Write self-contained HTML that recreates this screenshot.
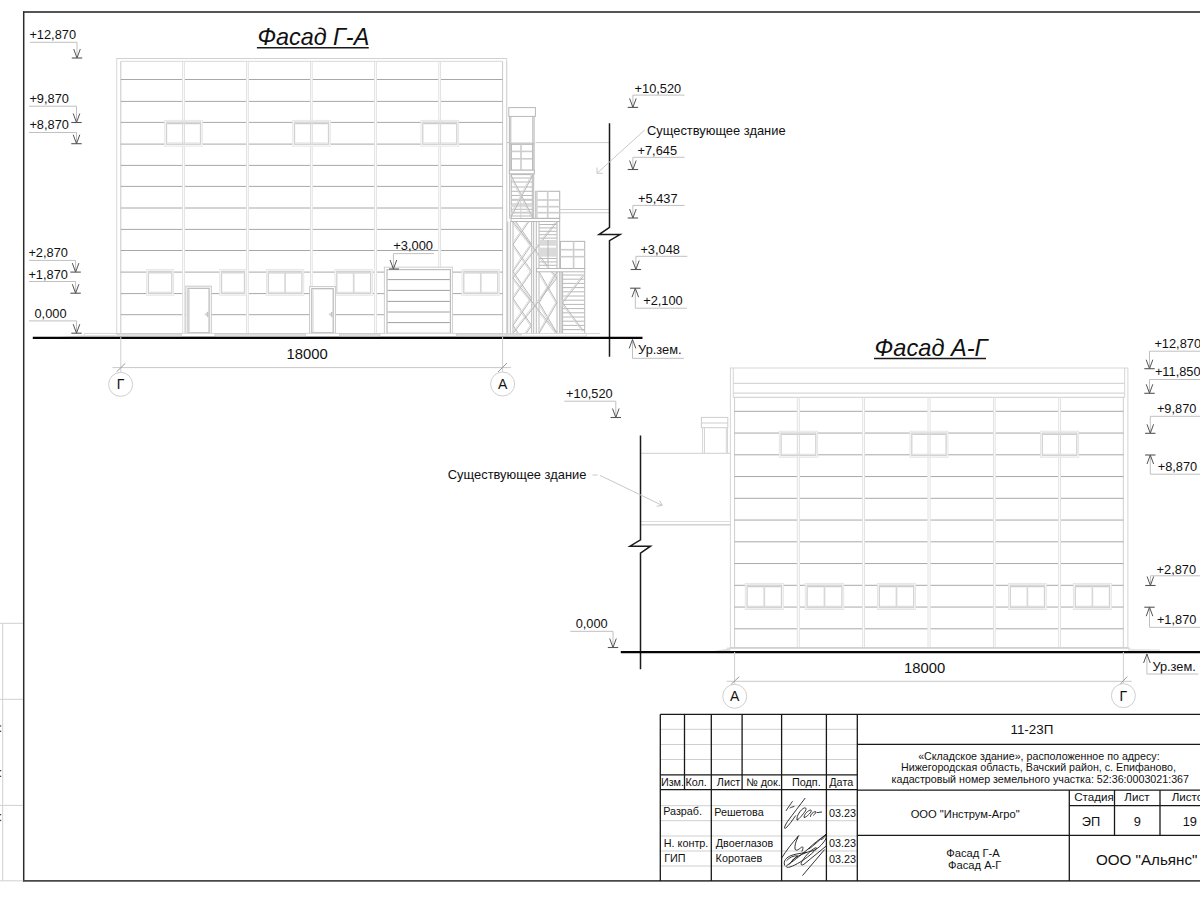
<!DOCTYPE html>
<html><head><meta charset="utf-8"><title>Фасады</title>
<style>
html,body{margin:0;padding:0;background:#fff;width:1200px;height:900px;overflow:hidden;}
svg{display:block;font-family:"Liberation Sans",sans-serif;}
</style></head><body>
<svg width="1200" height="900" viewBox="0 0 1200 900" shape-rendering="auto">
<rect x="0" y="0" width="1200" height="900" fill="#fff"/>
<line x1="23.00" y1="12.00" x2="1200.00" y2="12.00" stroke="#555" stroke-width="1.9"/>
<line x1="23.70" y1="11.50" x2="23.70" y2="881.50" stroke="#2c2c2c" stroke-width="1.5"/>
<line x1="23.00" y1="880.90" x2="1200.00" y2="880.90" stroke="#484848" stroke-width="1.8"/>
<line x1="2.70" y1="623.30" x2="2.70" y2="881.00" stroke="#d0d0d0" stroke-width="1"/>
<line x1="0.00" y1="623.30" x2="23.00" y2="623.30" stroke="#d0d0d0" stroke-width="1"/>
<line x1="0.00" y1="699.30" x2="23.00" y2="699.30" stroke="#d0d0d0" stroke-width="1"/>
<line x1="0.00" y1="805.40" x2="23.00" y2="805.40" stroke="#d0d0d0" stroke-width="1"/>
<line x1="0.00" y1="880.80" x2="23.00" y2="880.80" stroke="#d0d0d0" stroke-width="1"/>
<rect x="0" y="725.3" width="1.2" height="1.3" fill="#444"/>
<rect x="0" y="730.7" width="1.2" height="1.3" fill="#444"/>
<rect x="0" y="770.0" width="1.2" height="1.3" fill="#444"/>
<rect x="0" y="775.7" width="1.2" height="1.3" fill="#444"/>
<rect x="0" y="814.0" width="1.2" height="1.3" fill="#444"/>
<rect x="0" y="819.8" width="1.2" height="1.3" fill="#444"/>
<text x="29.40" y="39.00" font-size="12.8" text-anchor="start" fill="#111">+12,870</text>
<line x1="30.00" y1="42.30" x2="77.00" y2="42.30" stroke="#c0c0c0" stroke-width="1"/>
<line x1="77.00" y1="42.30" x2="77.00" y2="58.00" stroke="#c0c0c0" stroke-width="1"/>
<polyline points="73.70,49.00 77.00,58.00 80.30,49.00" stroke="#555" stroke-width="1" fill="none" stroke-linejoin="miter"/>
<line x1="71.80" y1="58.00" x2="82.20" y2="58.00" stroke="#555" stroke-width="1.1"/>
<text x="29.40" y="103.30" font-size="12.8" text-anchor="start" fill="#111">+9,870</text>
<line x1="29.00" y1="106.20" x2="76.50" y2="106.20" stroke="#c0c0c0" stroke-width="1"/>
<line x1="76.50" y1="106.20" x2="76.50" y2="122.50" stroke="#c0c0c0" stroke-width="1"/>
<polyline points="73.20,113.50 76.50,122.50 79.80,113.50" stroke="#555" stroke-width="1" fill="none" stroke-linejoin="miter"/>
<line x1="71.30" y1="122.50" x2="81.70" y2="122.50" stroke="#555" stroke-width="1.1"/>
<text x="29.40" y="128.80" font-size="12.8" text-anchor="start" fill="#111">+8,870</text>
<line x1="29.00" y1="132.50" x2="76.50" y2="132.50" stroke="#c0c0c0" stroke-width="1"/>
<line x1="76.50" y1="132.50" x2="76.50" y2="143.70" stroke="#c0c0c0" stroke-width="1"/>
<polyline points="73.20,134.70 76.50,143.70 79.80,134.70" stroke="#555" stroke-width="1" fill="none" stroke-linejoin="miter"/>
<line x1="71.30" y1="143.70" x2="81.70" y2="143.70" stroke="#555" stroke-width="1.1"/>
<text x="28.40" y="257.10" font-size="12.8" text-anchor="start" fill="#111">+2,870</text>
<line x1="29.00" y1="260.40" x2="75.60" y2="260.40" stroke="#c0c0c0" stroke-width="1"/>
<line x1="75.60" y1="260.40" x2="75.60" y2="272.10" stroke="#c0c0c0" stroke-width="1"/>
<polyline points="72.30,263.10 75.60,272.10 78.90,263.10" stroke="#555" stroke-width="1" fill="none" stroke-linejoin="miter"/>
<line x1="70.40" y1="272.10" x2="80.80" y2="272.10" stroke="#555" stroke-width="1.1"/>
<text x="28.40" y="278.50" font-size="12.8" text-anchor="start" fill="#111">+1,870</text>
<line x1="29.00" y1="281.50" x2="75.60" y2="281.50" stroke="#c0c0c0" stroke-width="1"/>
<line x1="75.60" y1="281.50" x2="75.60" y2="293.20" stroke="#c0c0c0" stroke-width="1"/>
<polyline points="72.30,284.20 75.60,293.20 78.90,284.20" stroke="#555" stroke-width="1" fill="none" stroke-linejoin="miter"/>
<line x1="70.40" y1="293.20" x2="80.80" y2="293.20" stroke="#555" stroke-width="1.1"/>
<text x="34.50" y="318.10" font-size="12.8" text-anchor="start" fill="#111">0,000</text>
<line x1="29.00" y1="320.90" x2="76.50" y2="320.90" stroke="#c0c0c0" stroke-width="1"/>
<line x1="76.50" y1="320.90" x2="76.50" y2="333.20" stroke="#c0c0c0" stroke-width="1"/>
<polyline points="73.20,324.20 76.50,333.20 79.80,324.20" stroke="#555" stroke-width="1" fill="none" stroke-linejoin="miter"/>
<line x1="71.30" y1="333.20" x2="81.70" y2="333.20" stroke="#555" stroke-width="1.1"/>
<text x="634.60" y="92.50" font-size="12.8" text-anchor="start" fill="#111">+10,520</text>
<line x1="632.90" y1="95.10" x2="684.50" y2="95.10" stroke="#c0c0c0" stroke-width="1"/>
<line x1="632.90" y1="95.10" x2="632.90" y2="107.40" stroke="#c0c0c0" stroke-width="1"/>
<polyline points="629.60,98.40 632.90,107.40 636.20,98.40" stroke="#555" stroke-width="1" fill="none" stroke-linejoin="miter"/>
<line x1="627.70" y1="107.40" x2="638.10" y2="107.40" stroke="#555" stroke-width="1.1"/>
<text x="637.50" y="154.60" font-size="12.8" text-anchor="start" fill="#111">+7,645</text>
<line x1="632.90" y1="157.30" x2="684.50" y2="157.30" stroke="#c0c0c0" stroke-width="1"/>
<line x1="632.90" y1="157.30" x2="632.90" y2="169.50" stroke="#c0c0c0" stroke-width="1"/>
<polyline points="629.60,160.50 632.90,169.50 636.20,160.50" stroke="#555" stroke-width="1" fill="none" stroke-linejoin="miter"/>
<line x1="627.70" y1="169.50" x2="638.10" y2="169.50" stroke="#555" stroke-width="1.1"/>
<text x="638.10" y="202.80" font-size="12.8" text-anchor="start" fill="#111">+5,437</text>
<line x1="632.90" y1="205.40" x2="684.50" y2="205.40" stroke="#c0c0c0" stroke-width="1"/>
<line x1="632.90" y1="205.40" x2="632.90" y2="218.00" stroke="#c0c0c0" stroke-width="1"/>
<polyline points="629.60,209.00 632.90,218.00 636.20,209.00" stroke="#555" stroke-width="1" fill="none" stroke-linejoin="miter"/>
<line x1="627.70" y1="218.00" x2="638.10" y2="218.00" stroke="#555" stroke-width="1.1"/>
<text x="640.40" y="254.40" font-size="12.8" text-anchor="start" fill="#111">+3,048</text>
<line x1="635.90" y1="256.30" x2="687.30" y2="256.30" stroke="#c0c0c0" stroke-width="1"/>
<line x1="635.90" y1="256.30" x2="635.90" y2="269.50" stroke="#c0c0c0" stroke-width="1"/>
<polyline points="632.60,260.50 635.90,269.50 639.20,260.50" stroke="#555" stroke-width="1" fill="none" stroke-linejoin="miter"/>
<line x1="630.70" y1="269.50" x2="641.10" y2="269.50" stroke="#555" stroke-width="1.1"/>
<text x="643.20" y="305.40" font-size="12.8" text-anchor="start" fill="#111">+2,100</text>
<line x1="635.30" y1="288.20" x2="635.30" y2="308.20" stroke="#c0c0c0" stroke-width="1"/>
<line x1="635.30" y1="308.20" x2="686.90" y2="308.20" stroke="#c0c0c0" stroke-width="1"/>
<polyline points="632.00,297.20 635.30,288.20 638.60,297.20" stroke="#555" stroke-width="1" fill="none" stroke-linejoin="miter"/>
<line x1="630.10" y1="288.20" x2="640.50" y2="288.20" stroke="#555" stroke-width="1.1"/>
<text x="638.10" y="354.00" font-size="12.8" text-anchor="start" fill="#111">Ур.зем.</text>
<line x1="632.50" y1="339.40" x2="632.50" y2="358.30" stroke="#c0c0c0" stroke-width="1"/>
<line x1="632.50" y1="358.30" x2="683.90" y2="358.30" stroke="#c0c0c0" stroke-width="1"/>
<polyline points="629.20,348.40 632.50,339.40 635.80,348.40" stroke="#555" stroke-width="1" fill="none" stroke-linejoin="miter"/>
<text x="566.10" y="397.50" font-size="12.8" text-anchor="start" fill="#111">+10,520</text>
<line x1="564.20" y1="401.20" x2="615.80" y2="401.20" stroke="#c0c0c0" stroke-width="1"/>
<line x1="615.80" y1="401.20" x2="615.80" y2="417.50" stroke="#c0c0c0" stroke-width="1"/>
<polyline points="612.50,408.50 615.80,417.50 619.10,408.50" stroke="#555" stroke-width="1" fill="none" stroke-linejoin="miter"/>
<line x1="610.60" y1="417.50" x2="621.00" y2="417.50" stroke="#555" stroke-width="1.1"/>
<text x="575.70" y="628.30" font-size="12.8" text-anchor="start" fill="#111">0,000</text>
<line x1="570.30" y1="631.30" x2="613.00" y2="631.30" stroke="#c0c0c0" stroke-width="1"/>
<line x1="613.00" y1="631.30" x2="613.00" y2="647.50" stroke="#c0c0c0" stroke-width="1"/>
<polyline points="609.70,638.50 613.00,647.50 616.30,638.50" stroke="#555" stroke-width="1" fill="none" stroke-linejoin="miter"/>
<line x1="607.80" y1="647.50" x2="618.20" y2="647.50" stroke="#555" stroke-width="1.1"/>
<text x="1154.40" y="348.00" font-size="12.8" text-anchor="start" fill="#111">+12,870</text>
<line x1="1149.50" y1="351.20" x2="1200.00" y2="351.20" stroke="#c0c0c0" stroke-width="1"/>
<line x1="1149.50" y1="351.20" x2="1149.50" y2="368.70" stroke="#c0c0c0" stroke-width="1"/>
<polyline points="1146.20,359.70 1149.50,368.70 1152.80,359.70" stroke="#555" stroke-width="1" fill="none" stroke-linejoin="miter"/>
<line x1="1144.30" y1="368.70" x2="1154.70" y2="368.70" stroke="#555" stroke-width="1.1"/>
<text x="1154.90" y="376.20" font-size="12.8" text-anchor="start" fill="#111">+11,850</text>
<line x1="1149.50" y1="379.50" x2="1200.00" y2="379.50" stroke="#c0c0c0" stroke-width="1"/>
<line x1="1149.50" y1="379.50" x2="1149.50" y2="393.30" stroke="#c0c0c0" stroke-width="1"/>
<polyline points="1146.20,384.30 1149.50,393.30 1152.80,384.30" stroke="#555" stroke-width="1" fill="none" stroke-linejoin="miter"/>
<line x1="1144.30" y1="393.30" x2="1154.70" y2="393.30" stroke="#555" stroke-width="1.1"/>
<text x="1156.90" y="413.30" font-size="12.8" text-anchor="start" fill="#111">+9,870</text>
<line x1="1150.30" y1="416.30" x2="1200.00" y2="416.30" stroke="#c0c0c0" stroke-width="1"/>
<line x1="1150.30" y1="416.30" x2="1150.30" y2="433.30" stroke="#c0c0c0" stroke-width="1"/>
<polyline points="1147.00,424.30 1150.30,433.30 1153.60,424.30" stroke="#555" stroke-width="1" fill="none" stroke-linejoin="miter"/>
<line x1="1145.10" y1="433.30" x2="1155.50" y2="433.30" stroke="#555" stroke-width="1.1"/>
<text x="1157.70" y="471.30" font-size="12.8" text-anchor="start" fill="#111">+8,870</text>
<line x1="1150.30" y1="455.00" x2="1150.30" y2="474.20" stroke="#c0c0c0" stroke-width="1"/>
<line x1="1150.30" y1="474.20" x2="1200.00" y2="474.20" stroke="#c0c0c0" stroke-width="1"/>
<polyline points="1147.00,464.00 1150.30,455.00 1153.60,464.00" stroke="#555" stroke-width="1" fill="none" stroke-linejoin="miter"/>
<line x1="1145.10" y1="455.00" x2="1155.50" y2="455.00" stroke="#555" stroke-width="1.1"/>
<text x="1156.60" y="573.60" font-size="12.8" text-anchor="start" fill="#111">+2,870</text>
<line x1="1150.40" y1="575.80" x2="1200.00" y2="575.80" stroke="#c0c0c0" stroke-width="1"/>
<line x1="1150.40" y1="575.80" x2="1150.40" y2="585.50" stroke="#c0c0c0" stroke-width="1"/>
<polyline points="1147.10,576.50 1150.40,585.50 1153.70,576.50" stroke="#555" stroke-width="1" fill="none" stroke-linejoin="miter"/>
<line x1="1145.20" y1="585.50" x2="1155.60" y2="585.50" stroke="#555" stroke-width="1.1"/>
<text x="1156.90" y="624.30" font-size="12.8" text-anchor="start" fill="#111">+1,870</text>
<line x1="1149.50" y1="607.20" x2="1149.50" y2="627.30" stroke="#c0c0c0" stroke-width="1"/>
<line x1="1149.50" y1="627.30" x2="1200.00" y2="627.30" stroke="#c0c0c0" stroke-width="1"/>
<polyline points="1146.20,616.20 1149.50,607.20 1152.80,616.20" stroke="#555" stroke-width="1" fill="none" stroke-linejoin="miter"/>
<line x1="1144.30" y1="607.20" x2="1154.70" y2="607.20" stroke="#555" stroke-width="1.1"/>
<text x="1152.40" y="670.80" font-size="12.8" text-anchor="start" fill="#111">Ур.зем.</text>
<line x1="1146.90" y1="654.00" x2="1146.90" y2="674.00" stroke="#c0c0c0" stroke-width="1"/>
<line x1="1146.90" y1="674.00" x2="1198.40" y2="674.00" stroke="#c0c0c0" stroke-width="1"/>
<polyline points="1143.60,663.00 1146.90,654.00 1150.20,663.00" stroke="#555" stroke-width="1" fill="none" stroke-linejoin="miter"/>
<rect x="116.70" y="58.50" width="390.00" height="276.00" stroke="#d8d8d8" stroke-width="1" fill="#fff"/>
<line x1="116.70" y1="58.50" x2="506.70" y2="58.50" stroke="#d0d0d0" stroke-width="1"/>
<line x1="120.80" y1="61.30" x2="502.60" y2="61.30" stroke="#d8d8d8" stroke-width="1"/>
<line x1="120.80" y1="61.30" x2="120.80" y2="337.00" stroke="#c8c8c8" stroke-width="1"/>
<line x1="502.60" y1="61.30" x2="502.60" y2="337.00" stroke="#c8c8c8" stroke-width="1"/>
<line x1="120.80" y1="79.50" x2="182.30" y2="79.50" stroke="#a8a8a8" stroke-width="1"/>
<line x1="184.70" y1="79.50" x2="246.20" y2="79.50" stroke="#a8a8a8" stroke-width="1"/>
<line x1="248.60" y1="79.50" x2="310.20" y2="79.50" stroke="#a8a8a8" stroke-width="1"/>
<line x1="312.50" y1="79.50" x2="374.30" y2="79.50" stroke="#a8a8a8" stroke-width="1"/>
<line x1="376.70" y1="79.50" x2="438.50" y2="79.50" stroke="#a8a8a8" stroke-width="1"/>
<line x1="440.90" y1="79.50" x2="502.60" y2="79.50" stroke="#a8a8a8" stroke-width="1"/>
<line x1="120.80" y1="101.40" x2="182.30" y2="101.40" stroke="#a8a8a8" stroke-width="1"/>
<line x1="184.70" y1="101.40" x2="246.20" y2="101.40" stroke="#a8a8a8" stroke-width="1"/>
<line x1="248.60" y1="101.40" x2="310.20" y2="101.40" stroke="#a8a8a8" stroke-width="1"/>
<line x1="312.50" y1="101.40" x2="374.30" y2="101.40" stroke="#a8a8a8" stroke-width="1"/>
<line x1="376.70" y1="101.40" x2="438.50" y2="101.40" stroke="#a8a8a8" stroke-width="1"/>
<line x1="440.90" y1="101.40" x2="502.60" y2="101.40" stroke="#a8a8a8" stroke-width="1"/>
<line x1="120.80" y1="122.40" x2="182.30" y2="122.40" stroke="#a8a8a8" stroke-width="1"/>
<line x1="184.70" y1="122.40" x2="246.20" y2="122.40" stroke="#a8a8a8" stroke-width="1"/>
<line x1="248.60" y1="122.40" x2="310.20" y2="122.40" stroke="#a8a8a8" stroke-width="1"/>
<line x1="312.50" y1="122.40" x2="374.30" y2="122.40" stroke="#a8a8a8" stroke-width="1"/>
<line x1="376.70" y1="122.40" x2="438.50" y2="122.40" stroke="#a8a8a8" stroke-width="1"/>
<line x1="440.90" y1="122.40" x2="502.60" y2="122.40" stroke="#a8a8a8" stroke-width="1"/>
<line x1="120.80" y1="144.10" x2="182.30" y2="144.10" stroke="#a8a8a8" stroke-width="1"/>
<line x1="184.70" y1="144.10" x2="246.20" y2="144.10" stroke="#a8a8a8" stroke-width="1"/>
<line x1="248.60" y1="144.10" x2="310.20" y2="144.10" stroke="#a8a8a8" stroke-width="1"/>
<line x1="312.50" y1="144.10" x2="374.30" y2="144.10" stroke="#a8a8a8" stroke-width="1"/>
<line x1="376.70" y1="144.10" x2="438.50" y2="144.10" stroke="#a8a8a8" stroke-width="1"/>
<line x1="440.90" y1="144.10" x2="502.60" y2="144.10" stroke="#a8a8a8" stroke-width="1"/>
<line x1="120.80" y1="165.40" x2="182.30" y2="165.40" stroke="#a8a8a8" stroke-width="1"/>
<line x1="184.70" y1="165.40" x2="246.20" y2="165.40" stroke="#a8a8a8" stroke-width="1"/>
<line x1="248.60" y1="165.40" x2="310.20" y2="165.40" stroke="#a8a8a8" stroke-width="1"/>
<line x1="312.50" y1="165.40" x2="374.30" y2="165.40" stroke="#a8a8a8" stroke-width="1"/>
<line x1="376.70" y1="165.40" x2="438.50" y2="165.40" stroke="#a8a8a8" stroke-width="1"/>
<line x1="440.90" y1="165.40" x2="502.60" y2="165.40" stroke="#a8a8a8" stroke-width="1"/>
<line x1="120.80" y1="186.40" x2="182.30" y2="186.40" stroke="#a8a8a8" stroke-width="1"/>
<line x1="184.70" y1="186.40" x2="246.20" y2="186.40" stroke="#a8a8a8" stroke-width="1"/>
<line x1="248.60" y1="186.40" x2="310.20" y2="186.40" stroke="#a8a8a8" stroke-width="1"/>
<line x1="312.50" y1="186.40" x2="374.30" y2="186.40" stroke="#a8a8a8" stroke-width="1"/>
<line x1="376.70" y1="186.40" x2="438.50" y2="186.40" stroke="#a8a8a8" stroke-width="1"/>
<line x1="440.90" y1="186.40" x2="502.60" y2="186.40" stroke="#a8a8a8" stroke-width="1"/>
<line x1="120.80" y1="208.00" x2="182.30" y2="208.00" stroke="#a8a8a8" stroke-width="1"/>
<line x1="184.70" y1="208.00" x2="246.20" y2="208.00" stroke="#a8a8a8" stroke-width="1"/>
<line x1="248.60" y1="208.00" x2="310.20" y2="208.00" stroke="#a8a8a8" stroke-width="1"/>
<line x1="312.50" y1="208.00" x2="374.30" y2="208.00" stroke="#a8a8a8" stroke-width="1"/>
<line x1="376.70" y1="208.00" x2="438.50" y2="208.00" stroke="#a8a8a8" stroke-width="1"/>
<line x1="440.90" y1="208.00" x2="502.60" y2="208.00" stroke="#a8a8a8" stroke-width="1"/>
<line x1="120.80" y1="229.40" x2="182.30" y2="229.40" stroke="#a8a8a8" stroke-width="1"/>
<line x1="184.70" y1="229.40" x2="246.20" y2="229.40" stroke="#a8a8a8" stroke-width="1"/>
<line x1="248.60" y1="229.40" x2="310.20" y2="229.40" stroke="#a8a8a8" stroke-width="1"/>
<line x1="312.50" y1="229.40" x2="374.30" y2="229.40" stroke="#a8a8a8" stroke-width="1"/>
<line x1="376.70" y1="229.40" x2="438.50" y2="229.40" stroke="#a8a8a8" stroke-width="1"/>
<line x1="440.90" y1="229.40" x2="502.60" y2="229.40" stroke="#a8a8a8" stroke-width="1"/>
<line x1="120.80" y1="250.50" x2="182.30" y2="250.50" stroke="#a8a8a8" stroke-width="1"/>
<line x1="184.70" y1="250.50" x2="246.20" y2="250.50" stroke="#a8a8a8" stroke-width="1"/>
<line x1="248.60" y1="250.50" x2="310.20" y2="250.50" stroke="#a8a8a8" stroke-width="1"/>
<line x1="312.50" y1="250.50" x2="374.30" y2="250.50" stroke="#a8a8a8" stroke-width="1"/>
<line x1="376.70" y1="250.50" x2="438.50" y2="250.50" stroke="#a8a8a8" stroke-width="1"/>
<line x1="440.90" y1="250.50" x2="502.60" y2="250.50" stroke="#a8a8a8" stroke-width="1"/>
<line x1="120.80" y1="272.10" x2="182.30" y2="272.10" stroke="#a8a8a8" stroke-width="1"/>
<line x1="184.70" y1="272.10" x2="246.20" y2="272.10" stroke="#a8a8a8" stroke-width="1"/>
<line x1="248.60" y1="272.10" x2="310.20" y2="272.10" stroke="#a8a8a8" stroke-width="1"/>
<line x1="312.50" y1="272.10" x2="374.30" y2="272.10" stroke="#a8a8a8" stroke-width="1"/>
<line x1="376.70" y1="272.10" x2="438.50" y2="272.10" stroke="#a8a8a8" stroke-width="1"/>
<line x1="440.90" y1="272.10" x2="502.60" y2="272.10" stroke="#a8a8a8" stroke-width="1"/>
<line x1="120.80" y1="293.60" x2="182.30" y2="293.60" stroke="#a8a8a8" stroke-width="1"/>
<line x1="184.70" y1="293.60" x2="246.20" y2="293.60" stroke="#a8a8a8" stroke-width="1"/>
<line x1="248.60" y1="293.60" x2="310.20" y2="293.60" stroke="#a8a8a8" stroke-width="1"/>
<line x1="312.50" y1="293.60" x2="374.30" y2="293.60" stroke="#a8a8a8" stroke-width="1"/>
<line x1="376.70" y1="293.60" x2="438.50" y2="293.60" stroke="#a8a8a8" stroke-width="1"/>
<line x1="440.90" y1="293.60" x2="502.60" y2="293.60" stroke="#a8a8a8" stroke-width="1"/>
<line x1="120.80" y1="314.70" x2="182.30" y2="314.70" stroke="#a8a8a8" stroke-width="1"/>
<line x1="184.70" y1="314.70" x2="246.20" y2="314.70" stroke="#a8a8a8" stroke-width="1"/>
<line x1="248.60" y1="314.70" x2="310.20" y2="314.70" stroke="#a8a8a8" stroke-width="1"/>
<line x1="312.50" y1="314.70" x2="374.30" y2="314.70" stroke="#a8a8a8" stroke-width="1"/>
<line x1="376.70" y1="314.70" x2="438.50" y2="314.70" stroke="#a8a8a8" stroke-width="1"/>
<line x1="440.90" y1="314.70" x2="502.60" y2="314.70" stroke="#a8a8a8" stroke-width="1"/>
<line x1="182.60" y1="61.30" x2="182.60" y2="333.50" stroke="#e2e2e2" stroke-width="1"/>
<line x1="184.40" y1="61.30" x2="184.40" y2="333.50" stroke="#e2e2e2" stroke-width="1"/>
<line x1="246.50" y1="61.30" x2="246.50" y2="333.50" stroke="#e2e2e2" stroke-width="1"/>
<line x1="248.30" y1="61.30" x2="248.30" y2="333.50" stroke="#e2e2e2" stroke-width="1"/>
<line x1="310.50" y1="61.30" x2="310.50" y2="333.50" stroke="#e2e2e2" stroke-width="1"/>
<line x1="312.20" y1="61.30" x2="312.20" y2="333.50" stroke="#e2e2e2" stroke-width="1"/>
<line x1="374.60" y1="61.30" x2="374.60" y2="333.50" stroke="#e2e2e2" stroke-width="1"/>
<line x1="376.40" y1="61.30" x2="376.40" y2="333.50" stroke="#e2e2e2" stroke-width="1"/>
<line x1="438.80" y1="61.30" x2="438.80" y2="333.50" stroke="#e2e2e2" stroke-width="1"/>
<line x1="440.60" y1="61.30" x2="440.60" y2="333.50" stroke="#e2e2e2" stroke-width="1"/>
<rect x="164.70" y="120.40" width="37.60" height="25.70" stroke="#e6e6e6" stroke-width="1" fill="#fff"/>
<rect x="166.50" y="122.20" width="34.00" height="22.10" stroke="#d2d2d2" stroke-width="1.3" fill="#fff"/>
<line x1="167.20" y1="123.60" x2="199.80" y2="123.60" stroke="#cdcdcd" stroke-width="1.2"/>
<line x1="167.20" y1="143.00" x2="199.80" y2="143.00" stroke="#dedede" stroke-width="1.1"/>
<line x1="182.60" y1="121.40" x2="182.60" y2="145.10" stroke="#dadada" stroke-width="1"/>
<line x1="184.40" y1="121.40" x2="184.40" y2="145.10" stroke="#dadada" stroke-width="1"/>
<rect x="292.70" y="120.40" width="37.60" height="25.70" stroke="#e6e6e6" stroke-width="1" fill="#fff"/>
<rect x="294.50" y="122.20" width="34.00" height="22.10" stroke="#d2d2d2" stroke-width="1.3" fill="#fff"/>
<line x1="295.20" y1="123.60" x2="327.80" y2="123.60" stroke="#cdcdcd" stroke-width="1.2"/>
<line x1="295.20" y1="143.00" x2="327.80" y2="143.00" stroke="#dedede" stroke-width="1.1"/>
<line x1="310.50" y1="121.40" x2="310.50" y2="145.10" stroke="#dadada" stroke-width="1"/>
<line x1="312.20" y1="121.40" x2="312.20" y2="145.10" stroke="#dadada" stroke-width="1"/>
<rect x="421.00" y="120.40" width="37.60" height="25.70" stroke="#e6e6e6" stroke-width="1" fill="#fff"/>
<rect x="422.80" y="122.20" width="34.00" height="22.10" stroke="#d2d2d2" stroke-width="1.3" fill="#fff"/>
<line x1="423.50" y1="123.60" x2="456.10" y2="123.60" stroke="#cdcdcd" stroke-width="1.2"/>
<line x1="423.50" y1="143.00" x2="456.10" y2="143.00" stroke="#dedede" stroke-width="1.1"/>
<line x1="438.80" y1="121.40" x2="438.80" y2="145.10" stroke="#dadada" stroke-width="1"/>
<line x1="440.60" y1="121.40" x2="440.60" y2="145.10" stroke="#dadada" stroke-width="1"/>
<rect x="146.60" y="269.60" width="27.00" height="25.70" stroke="#e6e6e6" stroke-width="1" fill="#fff"/>
<rect x="148.40" y="271.40" width="23.40" height="22.10" stroke="#d2d2d2" stroke-width="1.3" fill="#fff"/>
<line x1="149.10" y1="272.80" x2="171.10" y2="272.80" stroke="#cdcdcd" stroke-width="1.2"/>
<line x1="149.10" y1="292.20" x2="171.10" y2="292.20" stroke="#dedede" stroke-width="1.1"/>
<rect x="219.70" y="269.60" width="26.60" height="25.70" stroke="#e6e6e6" stroke-width="1" fill="#fff"/>
<rect x="221.50" y="271.40" width="23.00" height="22.10" stroke="#d2d2d2" stroke-width="1.3" fill="#fff"/>
<line x1="222.20" y1="272.80" x2="243.80" y2="272.80" stroke="#cdcdcd" stroke-width="1.2"/>
<line x1="222.20" y1="292.20" x2="243.80" y2="292.20" stroke="#dedede" stroke-width="1.1"/>
<rect x="266.50" y="269.60" width="37.20" height="25.70" stroke="#e6e6e6" stroke-width="1" fill="#fff"/>
<rect x="268.30" y="271.40" width="33.60" height="22.10" stroke="#d2d2d2" stroke-width="1.3" fill="#fff"/>
<line x1="269.00" y1="272.80" x2="301.20" y2="272.80" stroke="#cdcdcd" stroke-width="1.2"/>
<line x1="269.00" y1="292.20" x2="301.20" y2="292.20" stroke="#dedede" stroke-width="1.1"/>
<line x1="285.10" y1="271.60" x2="285.10" y2="293.30" stroke="#d8d8d8" stroke-width="1.7"/>
<rect x="335.00" y="269.60" width="37.40" height="25.70" stroke="#e6e6e6" stroke-width="1" fill="#fff"/>
<rect x="336.80" y="271.40" width="33.80" height="22.10" stroke="#d2d2d2" stroke-width="1.3" fill="#fff"/>
<line x1="337.50" y1="272.80" x2="369.90" y2="272.80" stroke="#cdcdcd" stroke-width="1.2"/>
<line x1="337.50" y1="292.20" x2="369.90" y2="292.20" stroke="#dedede" stroke-width="1.1"/>
<line x1="353.70" y1="271.60" x2="353.70" y2="293.30" stroke="#d8d8d8" stroke-width="1.7"/>
<rect x="462.00" y="269.60" width="37.60" height="25.70" stroke="#e6e6e6" stroke-width="1" fill="#fff"/>
<rect x="463.80" y="271.40" width="34.00" height="22.10" stroke="#d2d2d2" stroke-width="1.3" fill="#fff"/>
<line x1="464.50" y1="272.80" x2="497.10" y2="272.80" stroke="#cdcdcd" stroke-width="1.2"/>
<line x1="464.50" y1="292.20" x2="497.10" y2="292.20" stroke="#dedede" stroke-width="1.1"/>
<line x1="480.80" y1="271.60" x2="480.80" y2="293.30" stroke="#d8d8d8" stroke-width="1.7"/>
<rect x="185.80" y="286.20" width="25.50" height="47.10" stroke="#c8c8c8" stroke-width="1" fill="#fff"/>
<rect x="188.00" y="288.30" width="21.10" height="44.50" stroke="#b8b8b8" stroke-width="1.2" fill="#fff"/>
<line x1="189.40" y1="289.80" x2="189.40" y2="332.30" stroke="#e0e0e0" stroke-width="1"/>
<polygon points="204.7,314.3 207.7,312.3 207.7,316.3" fill="#e4e4e4" stroke="#bbb" stroke-width="0.5"/>
<line x1="207.70" y1="311.80" x2="207.70" y2="317.30" stroke="#b4b4b4" stroke-width="0.7"/>
<rect x="309.60" y="286.60" width="25.80" height="46.70" stroke="#c8c8c8" stroke-width="1" fill="#fff"/>
<rect x="311.80" y="288.70" width="21.40" height="44.10" stroke="#b8b8b8" stroke-width="1.2" fill="#fff"/>
<line x1="313.20" y1="290.20" x2="313.20" y2="332.30" stroke="#e0e0e0" stroke-width="1"/>
<polygon points="328.8,314.3 331.8,312.3 331.8,316.3" fill="#e4e4e4" stroke="#bbb" stroke-width="0.5"/>
<line x1="331.80" y1="311.80" x2="331.80" y2="317.30" stroke="#b4b4b4" stroke-width="0.7"/>
<rect x="384.40" y="267.20" width="68.00" height="66.30" stroke="#cfcfcf" stroke-width="1" fill="#fff"/>
<rect x="387.00" y="269.60" width="63.40" height="63.70" stroke="#bdbdbd" stroke-width="1.2" fill="#fff"/>
<line x1="387.60" y1="279.60" x2="449.80" y2="279.60" stroke="#a0a0a0" stroke-width="1"/>
<line x1="387.60" y1="290.40" x2="449.80" y2="290.40" stroke="#a0a0a0" stroke-width="1"/>
<line x1="387.60" y1="301.40" x2="449.80" y2="301.40" stroke="#a0a0a0" stroke-width="1"/>
<line x1="387.60" y1="312.00" x2="449.80" y2="312.00" stroke="#a0a0a0" stroke-width="1"/>
<line x1="387.60" y1="322.60" x2="449.80" y2="322.60" stroke="#a0a0a0" stroke-width="1"/>
<line x1="84.30" y1="333.50" x2="600.00" y2="333.50" stroke="#d8d8d8" stroke-width="1"/>
<line x1="84.30" y1="333.50" x2="84.30" y2="337.00" stroke="#d8d8d8" stroke-width="1"/>
<polygon points="60,337 84,335 116,335 116,337" fill="#e4e4e4"/>
<rect x="116.7" y="333.3" width="390" height="3.5" fill="#dfdfdf"/>
<line x1="116.70" y1="333.60" x2="506.70" y2="333.60" stroke="#c6c6c6" stroke-width="0.8"/>
<rect x="181.70" y="333.30" width="33.30" height="3.30" stroke="#d0d0d0" stroke-width="0.8" fill="#fff"/>
<rect x="305.60" y="333.30" width="33.80" height="3.30" stroke="#d0d0d0" stroke-width="0.8" fill="#fff"/>
<rect x="380.00" y="333.30" width="76.40" height="3.30" stroke="#d0d0d0" stroke-width="0.8" fill="#fff"/>
<text x="393.20" y="250.00" font-size="12.9" text-anchor="start" fill="#111">+3,000</text>
<line x1="393.40" y1="253.60" x2="434.00" y2="253.60" stroke="#c0c0c0" stroke-width="1"/>
<line x1="393.40" y1="253.60" x2="393.40" y2="269.00" stroke="#c0c0c0" stroke-width="1"/>
<polyline points="390.10,260.00 393.40,269.00 396.70,260.00" stroke="#555" stroke-width="1" fill="none" stroke-linejoin="miter"/>
<line x1="389.00" y1="269.00" x2="399.00" y2="269.00" stroke="#555" stroke-width="1.1"/>
<rect x="508.80" y="107.60" width="26.60" height="8.80" stroke="#b8b8b8" stroke-width="1" fill="#fff"/>
<line x1="509.40" y1="116.40" x2="509.40" y2="142.70" stroke="#b8b8b8" stroke-width="1"/>
<line x1="510.80" y1="116.40" x2="510.80" y2="142.70" stroke="#b8b8b8" stroke-width="1"/>
<line x1="532.80" y1="116.40" x2="532.80" y2="142.70" stroke="#b8b8b8" stroke-width="1"/>
<line x1="534.10" y1="116.40" x2="534.10" y2="142.70" stroke="#b8b8b8" stroke-width="1"/>
<rect x="509.4" y="142.4" width="25" height="2" fill="#d0d0d0"/>
<rect x="511.40" y="144.30" width="21.40" height="25.90" stroke="#b8b8b8" stroke-width="1" fill="none"/>
<rect x="511.4" y="150.6" width="21.4" height="1.6" fill="#cdcdcd"/>
<rect x="511.4" y="158.0" width="21.4" height="1.6" fill="#cdcdcd"/>
<rect x="520.2" y="144.3" width="1.6" height="25.9" fill="#cdcdcd"/>
<line x1="509.40" y1="142.70" x2="509.40" y2="174.00" stroke="#b8b8b8" stroke-width="1"/>
<line x1="510.80" y1="142.70" x2="510.80" y2="174.00" stroke="#b8b8b8" stroke-width="1"/>
<line x1="532.80" y1="142.70" x2="532.80" y2="174.00" stroke="#b8b8b8" stroke-width="1"/>
<line x1="534.10" y1="142.70" x2="534.10" y2="174.00" stroke="#b8b8b8" stroke-width="1"/>
<rect x="509.40" y="170.20" width="25.00" height="3.60" stroke="#b8b8b8" stroke-width="1" fill="#fff"/>
<line x1="535.50" y1="142.60" x2="609.00" y2="142.60" stroke="#cdcdcd" stroke-width="1"/>
<line x1="507.20" y1="142.60" x2="509.40" y2="142.60" stroke="#bbb" stroke-width="1"/>
<line x1="509.70" y1="174.00" x2="509.70" y2="218.50" stroke="#b8b8b8" stroke-width="1"/>
<line x1="511.30" y1="174.00" x2="511.30" y2="218.50" stroke="#b8b8b8" stroke-width="1"/>
<line x1="532.30" y1="174.00" x2="532.30" y2="218.50" stroke="#b8b8b8" stroke-width="1"/>
<line x1="533.70" y1="174.00" x2="533.70" y2="218.50" stroke="#b8b8b8" stroke-width="1"/>
<line x1="511.30" y1="174.60" x2="532.30" y2="174.60" stroke="#b8b8b8" stroke-width="1"/>
<line x1="511.30" y1="178.00" x2="532.30" y2="178.00" stroke="#b8b8b8" stroke-width="1"/>
<line x1="511.30" y1="182.00" x2="532.30" y2="182.00" stroke="#b8b8b8" stroke-width="1"/>
<line x1="511.30" y1="187.00" x2="532.30" y2="187.00" stroke="#b8b8b8" stroke-width="1"/>
<line x1="511.30" y1="191.30" x2="532.30" y2="191.30" stroke="#b8b8b8" stroke-width="1"/>
<line x1="511.30" y1="195.50" x2="532.30" y2="195.50" stroke="#b8b8b8" stroke-width="1"/>
<line x1="511.30" y1="200.00" x2="532.30" y2="200.00" stroke="#b8b8b8" stroke-width="1"/>
<line x1="511.30" y1="204.00" x2="532.30" y2="204.00" stroke="#b8b8b8" stroke-width="1"/>
<line x1="511.30" y1="209.30" x2="532.30" y2="209.30" stroke="#b8b8b8" stroke-width="1"/>
<line x1="511.30" y1="212.70" x2="532.30" y2="212.70" stroke="#b8b8b8" stroke-width="1"/>
<line x1="511.30" y1="216.00" x2="532.30" y2="216.00" stroke="#b8b8b8" stroke-width="1"/>
<rect x="511.3" y="198.8" width="21" height="1.8" fill="#c8c8c8"/>
<rect x="511.3" y="205" width="21" height="2.2" fill="#dcdcdc"/>
<rect x="511.3" y="211.7" width="21" height="1.8" fill="#cdcdcd"/>
<line x1="510.80" y1="174.80" x2="532.80" y2="217.50" stroke="#b8b8b8" stroke-width="1"/>
<line x1="509.73" y1="175.35" x2="531.73" y2="218.05" stroke="#dadada" stroke-width="1"/>
<line x1="532.80" y1="174.80" x2="510.80" y2="217.50" stroke="#b8b8b8" stroke-width="1"/>
<line x1="531.73" y1="174.25" x2="509.73" y2="216.95" stroke="#dadada" stroke-width="1"/>
<line x1="520.80" y1="191.00" x2="520.80" y2="218.00" stroke="#d0d0d0" stroke-width="1"/>
<rect x="535.70" y="191.30" width="24.00" height="27.00" stroke="#b8b8b8" stroke-width="1.1" fill="none"/>
<rect x="535.7" y="199.2" width="24" height="1.6" fill="#cdcdcd"/>
<rect x="535.7" y="205.89999999999998" width="24" height="1.6" fill="#cdcdcd"/>
<rect x="535.7" y="211.89999999999998" width="24" height="1.6" fill="#cdcdcd"/>
<rect x="546.9" y="191.3" width="1.6" height="27" fill="#cdcdcd"/>
<rect x="535.7" y="191.3" width="2" height="27" fill="#d4d4d4"/>
<line x1="559.70" y1="209.50" x2="609.00" y2="209.50" stroke="#cdcdcd" stroke-width="1.1"/>
<line x1="559.70" y1="212.80" x2="609.00" y2="212.80" stroke="#cdcdcd" stroke-width="1.1"/>
<rect x="511.00" y="218.50" width="48.70" height="3.00" stroke="#b8b8b8" stroke-width="1" fill="#fff"/>
<line x1="507.70" y1="221.50" x2="507.70" y2="333.50" stroke="#b8b8b8" stroke-width="1"/>
<line x1="510.30" y1="221.50" x2="510.30" y2="333.50" stroke="#b8b8b8" stroke-width="1"/>
<line x1="513.00" y1="221.50" x2="513.00" y2="333.50" stroke="#b8b8b8" stroke-width="1"/>
<line x1="531.70" y1="221.50" x2="531.70" y2="333.50" stroke="#b8b8b8" stroke-width="1"/>
<line x1="533.70" y1="221.50" x2="533.70" y2="333.50" stroke="#b8b8b8" stroke-width="1"/>
<line x1="536.30" y1="221.50" x2="536.30" y2="333.50" stroke="#b8b8b8" stroke-width="1"/>
<line x1="539.00" y1="221.50" x2="539.00" y2="333.50" stroke="#b8b8b8" stroke-width="1"/>
<line x1="557.00" y1="221.50" x2="557.00" y2="333.50" stroke="#b8b8b8" stroke-width="1"/>
<line x1="559.70" y1="221.50" x2="559.70" y2="333.50" stroke="#b8b8b8" stroke-width="1"/>
<clipPath id="cL"><rect x="512.5" y="222" width="19.7" height="111.3"/></clipPath><g clip-path="url(#cL)">
<line x1="513.00" y1="190.50" x2="531.70" y2="217.50" stroke="#b8b8b8" stroke-width="1"/>
<line x1="512.01" y1="191.18" x2="530.71" y2="218.18" stroke="#dadada" stroke-width="1"/>
<line x1="531.70" y1="190.50" x2="513.00" y2="217.50" stroke="#b8b8b8" stroke-width="1"/>
<line x1="530.71" y1="189.82" x2="512.01" y2="216.82" stroke="#dadada" stroke-width="1"/>
<line x1="513.00" y1="217.50" x2="531.70" y2="244.50" stroke="#b8b8b8" stroke-width="1"/>
<line x1="512.01" y1="218.18" x2="530.71" y2="245.18" stroke="#dadada" stroke-width="1"/>
<line x1="531.70" y1="217.50" x2="513.00" y2="244.50" stroke="#b8b8b8" stroke-width="1"/>
<line x1="530.71" y1="216.82" x2="512.01" y2="243.82" stroke="#dadada" stroke-width="1"/>
<line x1="513.00" y1="244.50" x2="531.70" y2="271.50" stroke="#b8b8b8" stroke-width="1"/>
<line x1="512.01" y1="245.18" x2="530.71" y2="272.18" stroke="#dadada" stroke-width="1"/>
<line x1="531.70" y1="244.50" x2="513.00" y2="271.50" stroke="#b8b8b8" stroke-width="1"/>
<line x1="530.71" y1="243.82" x2="512.01" y2="270.82" stroke="#dadada" stroke-width="1"/>
<line x1="513.00" y1="271.50" x2="531.70" y2="298.50" stroke="#b8b8b8" stroke-width="1"/>
<line x1="512.01" y1="272.18" x2="530.71" y2="299.18" stroke="#dadada" stroke-width="1"/>
<line x1="531.70" y1="271.50" x2="513.00" y2="298.50" stroke="#b8b8b8" stroke-width="1"/>
<line x1="530.71" y1="270.82" x2="512.01" y2="297.82" stroke="#dadada" stroke-width="1"/>
<line x1="513.00" y1="298.50" x2="531.70" y2="325.50" stroke="#b8b8b8" stroke-width="1"/>
<line x1="512.01" y1="299.18" x2="530.71" y2="326.18" stroke="#dadada" stroke-width="1"/>
<line x1="531.70" y1="298.50" x2="513.00" y2="325.50" stroke="#b8b8b8" stroke-width="1"/>
<line x1="530.71" y1="297.82" x2="512.01" y2="324.82" stroke="#dadada" stroke-width="1"/>
<line x1="513.00" y1="325.50" x2="531.70" y2="352.50" stroke="#b8b8b8" stroke-width="1"/>
<line x1="512.01" y1="326.18" x2="530.71" y2="353.18" stroke="#dadada" stroke-width="1"/>
<line x1="531.70" y1="325.50" x2="513.00" y2="352.50" stroke="#b8b8b8" stroke-width="1"/>
<line x1="530.71" y1="324.82" x2="512.01" y2="351.82" stroke="#dadada" stroke-width="1"/>
</g>
<line x1="513.00" y1="222.00" x2="557.00" y2="278.00" stroke="#b8b8b8" stroke-width="1"/>
<line x1="512.06" y1="222.74" x2="556.06" y2="278.74" stroke="#dadada" stroke-width="1"/>
<line x1="557.00" y1="222.00" x2="513.00" y2="278.00" stroke="#b8b8b8" stroke-width="1"/>
<line x1="556.06" y1="221.26" x2="512.06" y2="277.26" stroke="#dadada" stroke-width="1"/>
<line x1="513.00" y1="278.00" x2="557.00" y2="333.30" stroke="#b8b8b8" stroke-width="1"/>
<line x1="512.06" y1="278.75" x2="556.06" y2="334.05" stroke="#dadada" stroke-width="1"/>
<line x1="557.00" y1="278.00" x2="513.00" y2="333.30" stroke="#b8b8b8" stroke-width="1"/>
<line x1="556.06" y1="277.25" x2="512.06" y2="332.55" stroke="#dadada" stroke-width="1"/>
<line x1="539.20" y1="224.50" x2="556.80" y2="224.50" stroke="#b8b8b8" stroke-width="1"/>
<line x1="539.20" y1="227.90" x2="556.80" y2="227.90" stroke="#b8b8b8" stroke-width="1"/>
<line x1="539.20" y1="231.30" x2="556.80" y2="231.30" stroke="#b8b8b8" stroke-width="1"/>
<line x1="539.20" y1="234.70" x2="556.80" y2="234.70" stroke="#b8b8b8" stroke-width="1"/>
<line x1="539.20" y1="238.10" x2="556.80" y2="238.10" stroke="#b8b8b8" stroke-width="1"/>
<line x1="539.20" y1="241.50" x2="556.80" y2="241.50" stroke="#b8b8b8" stroke-width="1"/>
<line x1="539.20" y1="244.90" x2="556.80" y2="244.90" stroke="#b8b8b8" stroke-width="1"/>
<line x1="539.20" y1="248.30" x2="556.80" y2="248.30" stroke="#b8b8b8" stroke-width="1"/>
<line x1="539.20" y1="251.70" x2="556.80" y2="251.70" stroke="#b8b8b8" stroke-width="1"/>
<line x1="539.20" y1="255.10" x2="556.80" y2="255.10" stroke="#b8b8b8" stroke-width="1"/>
<line x1="539.20" y1="258.50" x2="556.80" y2="258.50" stroke="#b8b8b8" stroke-width="1"/>
<line x1="539.20" y1="261.90" x2="556.80" y2="261.90" stroke="#b8b8b8" stroke-width="1"/>
<line x1="539.20" y1="265.30" x2="556.80" y2="265.30" stroke="#b8b8b8" stroke-width="1"/>
<rect x="539.2" y="240" width="17.6" height="4.7" fill="#dadada"/>
<rect x="539.2" y="248" width="17.6" height="8.7" fill="#dadada"/>
<line x1="548.00" y1="240.00" x2="548.00" y2="266.00" stroke="#b8b8b8" stroke-width="1"/>
<rect x="536.50" y="268.50" width="48.20" height="3.30" stroke="#b8b8b8" stroke-width="1" fill="#fff"/>
<line x1="539.20" y1="272.00" x2="557.00" y2="302.65" stroke="#b8b8b8" stroke-width="1"/>
<line x1="538.16" y1="272.60" x2="555.96" y2="303.25" stroke="#dadada" stroke-width="1"/>
<line x1="557.00" y1="272.00" x2="539.20" y2="302.65" stroke="#b8b8b8" stroke-width="1"/>
<line x1="555.96" y1="271.40" x2="538.16" y2="302.05" stroke="#dadada" stroke-width="1"/>
<line x1="539.20" y1="302.65" x2="557.00" y2="333.30" stroke="#b8b8b8" stroke-width="1"/>
<line x1="538.16" y1="303.25" x2="555.96" y2="333.90" stroke="#dadada" stroke-width="1"/>
<line x1="557.00" y1="302.65" x2="539.20" y2="333.30" stroke="#b8b8b8" stroke-width="1"/>
<line x1="555.96" y1="302.05" x2="538.16" y2="332.70" stroke="#dadada" stroke-width="1"/>
<rect x="560.40" y="241.40" width="24.30" height="27.10" stroke="#b8b8b8" stroke-width="1.1" fill="none"/>
<rect x="560.4" y="248.89999999999998" width="24.3" height="1.6" fill="#cdcdcd"/>
<rect x="560.4" y="255.89999999999998" width="24.3" height="1.6" fill="#cdcdcd"/>
<rect x="572.8" y="241.4" width="1.6" height="27.1" fill="#cdcdcd"/>
<line x1="561.10" y1="272.00" x2="561.10" y2="333.50" stroke="#b8b8b8" stroke-width="1"/>
<line x1="562.60" y1="272.00" x2="562.60" y2="333.50" stroke="#b8b8b8" stroke-width="1"/>
<line x1="584.70" y1="272.00" x2="584.70" y2="333.50" stroke="#b8b8b8" stroke-width="1"/>
<line x1="562.60" y1="275.00" x2="584.70" y2="275.00" stroke="#b8b8b8" stroke-width="1"/>
<line x1="562.60" y1="279.20" x2="584.70" y2="279.20" stroke="#b8b8b8" stroke-width="1"/>
<line x1="562.60" y1="283.40" x2="584.70" y2="283.40" stroke="#b8b8b8" stroke-width="1"/>
<line x1="562.60" y1="287.60" x2="584.70" y2="287.60" stroke="#b8b8b8" stroke-width="1"/>
<line x1="562.60" y1="291.80" x2="584.70" y2="291.80" stroke="#b8b8b8" stroke-width="1"/>
<line x1="562.60" y1="296.00" x2="584.70" y2="296.00" stroke="#b8b8b8" stroke-width="1"/>
<line x1="562.60" y1="300.20" x2="584.70" y2="300.20" stroke="#b8b8b8" stroke-width="1"/>
<line x1="562.60" y1="304.40" x2="584.70" y2="304.40" stroke="#b8b8b8" stroke-width="1"/>
<line x1="562.60" y1="308.60" x2="584.70" y2="308.60" stroke="#b8b8b8" stroke-width="1"/>
<line x1="562.60" y1="312.80" x2="584.70" y2="312.80" stroke="#b8b8b8" stroke-width="1"/>
<line x1="562.60" y1="317.00" x2="584.70" y2="317.00" stroke="#b8b8b8" stroke-width="1"/>
<line x1="562.60" y1="321.20" x2="584.70" y2="321.20" stroke="#b8b8b8" stroke-width="1"/>
<line x1="562.60" y1="325.40" x2="584.70" y2="325.40" stroke="#b8b8b8" stroke-width="1"/>
<line x1="562.60" y1="329.60" x2="584.70" y2="329.60" stroke="#b8b8b8" stroke-width="1"/>
<line x1="583.50" y1="276.00" x2="562.60" y2="303.00" stroke="#b8b8b8" stroke-width="1"/>
<line x1="582.55" y1="275.27" x2="561.65" y2="302.27" stroke="#dadada" stroke-width="1"/>
<line x1="562.60" y1="303.00" x2="583.50" y2="331.00" stroke="#b8b8b8" stroke-width="1"/>
<line x1="561.64" y1="303.72" x2="582.54" y2="331.72" stroke="#dadada" stroke-width="1"/>
<rect x="503.00" y="333.50" width="83.20" height="2.60" stroke="#d0d0d0" stroke-width="0.8" fill="#fff"/>
<rect x="503.5" y="334" width="18.5" height="1.8" fill="#dcdcdc"/>
<line x1="506.70" y1="61.30" x2="506.70" y2="337.00" stroke="#d6d6d6" stroke-width="1"/>
<polyline points="609.50,123.30 609.50,227.40 599.00,234.60 620.00,234.60 609.50,240.60 609.50,356.80" stroke="#1a1a1a" stroke-width="1.5" fill="none" stroke-linejoin="miter"/>
<line x1="644.70" y1="130.00" x2="597.00" y2="173.30" stroke="#c8c8c8" stroke-width="1"/>
<polyline points="597.00,167.50 597.00,173.30 602.80,173.30" stroke="#c8c8c8" stroke-width="1" fill="none" stroke-linejoin="miter"/>
<text x="647.00" y="134.90" font-size="12.9" text-anchor="start" fill="#111">Существующее здание</text>
<line x1="32.80" y1="337.90" x2="642.50" y2="337.90" stroke="#050505" stroke-width="2.2"/>
<line x1="112.50" y1="367.60" x2="511.00" y2="367.60" stroke="#c8c8c8" stroke-width="1"/>
<line x1="120.80" y1="337.00" x2="120.80" y2="372.30" stroke="#cfcfcf" stroke-width="1"/>
<line x1="502.60" y1="337.00" x2="502.60" y2="372.00" stroke="#cfcfcf" stroke-width="1"/>
<line x1="116.70" y1="371.70" x2="125.30" y2="363.30" stroke="#999" stroke-width="1"/>
<line x1="498.00" y1="372.00" x2="507.00" y2="363.00" stroke="#999" stroke-width="1"/>
<text x="286.60" y="359.00" font-size="14.8" text-anchor="start" fill="#111">18000</text>
<circle cx="120.6" cy="384.4" r="12" fill="#fff" stroke="#cfcfcf" stroke-width="1"/>
<circle cx="502.6" cy="384.0" r="12" fill="#fff" stroke="#cfcfcf" stroke-width="1"/>
<text x="120.60" y="389.40" font-size="14" text-anchor="middle" fill="#111">Г</text>
<text x="502.60" y="389.00" font-size="14" text-anchor="middle" fill="#111">А</text>
<text x="257.40" y="45.00" font-size="23.4" text-anchor="start" fill="#111" font-style="italic">Фасад Г-А</text>
<line x1="256.90" y1="47.75" x2="368.75" y2="47.75" stroke="#1a1a1a" stroke-width="1.6"/>
<rect x="730.40" y="368.00" width="397.50" height="279.50" stroke="#d6d6d6" stroke-width="1" fill="#fff"/>
<line x1="733.30" y1="383.30" x2="1124.70" y2="383.30" stroke="#cdcdcd" stroke-width="1"/>
<line x1="733.30" y1="393.10" x2="1124.70" y2="393.10" stroke="#cdcdcd" stroke-width="1"/>
<line x1="733.30" y1="397.30" x2="1124.70" y2="397.30" stroke="#cdcdcd" stroke-width="1"/>
<line x1="733.30" y1="368.00" x2="733.30" y2="397.30" stroke="#d6d6d6" stroke-width="1"/>
<line x1="1124.70" y1="368.00" x2="1124.70" y2="397.30" stroke="#d6d6d6" stroke-width="1"/>
<line x1="734.60" y1="397.30" x2="734.60" y2="647.50" stroke="#cfcfcf" stroke-width="1"/>
<line x1="1123.30" y1="397.30" x2="1123.30" y2="647.50" stroke="#cfcfcf" stroke-width="1"/>
<line x1="734.50" y1="411.30" x2="797.00" y2="411.30" stroke="#a8a8a8" stroke-width="1"/>
<line x1="799.60" y1="411.30" x2="862.40" y2="411.30" stroke="#a8a8a8" stroke-width="1"/>
<line x1="864.80" y1="411.30" x2="927.70" y2="411.30" stroke="#a8a8a8" stroke-width="1"/>
<line x1="930.40" y1="411.30" x2="993.20" y2="411.30" stroke="#a8a8a8" stroke-width="1"/>
<line x1="995.50" y1="411.30" x2="1058.40" y2="411.30" stroke="#a8a8a8" stroke-width="1"/>
<line x1="1060.80" y1="411.30" x2="1123.40" y2="411.30" stroke="#a8a8a8" stroke-width="1"/>
<line x1="734.50" y1="433.05" x2="797.00" y2="433.05" stroke="#a8a8a8" stroke-width="1"/>
<line x1="799.60" y1="433.05" x2="862.40" y2="433.05" stroke="#a8a8a8" stroke-width="1"/>
<line x1="864.80" y1="433.05" x2="927.70" y2="433.05" stroke="#a8a8a8" stroke-width="1"/>
<line x1="930.40" y1="433.05" x2="993.20" y2="433.05" stroke="#a8a8a8" stroke-width="1"/>
<line x1="995.50" y1="433.05" x2="1058.40" y2="433.05" stroke="#a8a8a8" stroke-width="1"/>
<line x1="1060.80" y1="433.05" x2="1123.40" y2="433.05" stroke="#a8a8a8" stroke-width="1"/>
<line x1="734.50" y1="454.80" x2="797.00" y2="454.80" stroke="#a8a8a8" stroke-width="1"/>
<line x1="799.60" y1="454.80" x2="862.40" y2="454.80" stroke="#a8a8a8" stroke-width="1"/>
<line x1="864.80" y1="454.80" x2="927.70" y2="454.80" stroke="#a8a8a8" stroke-width="1"/>
<line x1="930.40" y1="454.80" x2="993.20" y2="454.80" stroke="#a8a8a8" stroke-width="1"/>
<line x1="995.50" y1="454.80" x2="1058.40" y2="454.80" stroke="#a8a8a8" stroke-width="1"/>
<line x1="1060.80" y1="454.80" x2="1123.40" y2="454.80" stroke="#a8a8a8" stroke-width="1"/>
<line x1="734.50" y1="476.55" x2="797.00" y2="476.55" stroke="#a8a8a8" stroke-width="1"/>
<line x1="799.60" y1="476.55" x2="862.40" y2="476.55" stroke="#a8a8a8" stroke-width="1"/>
<line x1="864.80" y1="476.55" x2="927.70" y2="476.55" stroke="#a8a8a8" stroke-width="1"/>
<line x1="930.40" y1="476.55" x2="993.20" y2="476.55" stroke="#a8a8a8" stroke-width="1"/>
<line x1="995.50" y1="476.55" x2="1058.40" y2="476.55" stroke="#a8a8a8" stroke-width="1"/>
<line x1="1060.80" y1="476.55" x2="1123.40" y2="476.55" stroke="#a8a8a8" stroke-width="1"/>
<line x1="734.50" y1="498.30" x2="797.00" y2="498.30" stroke="#a8a8a8" stroke-width="1"/>
<line x1="799.60" y1="498.30" x2="862.40" y2="498.30" stroke="#a8a8a8" stroke-width="1"/>
<line x1="864.80" y1="498.30" x2="927.70" y2="498.30" stroke="#a8a8a8" stroke-width="1"/>
<line x1="930.40" y1="498.30" x2="993.20" y2="498.30" stroke="#a8a8a8" stroke-width="1"/>
<line x1="995.50" y1="498.30" x2="1058.40" y2="498.30" stroke="#a8a8a8" stroke-width="1"/>
<line x1="1060.80" y1="498.30" x2="1123.40" y2="498.30" stroke="#a8a8a8" stroke-width="1"/>
<line x1="734.50" y1="520.05" x2="797.00" y2="520.05" stroke="#a8a8a8" stroke-width="1"/>
<line x1="799.60" y1="520.05" x2="862.40" y2="520.05" stroke="#a8a8a8" stroke-width="1"/>
<line x1="864.80" y1="520.05" x2="927.70" y2="520.05" stroke="#a8a8a8" stroke-width="1"/>
<line x1="930.40" y1="520.05" x2="993.20" y2="520.05" stroke="#a8a8a8" stroke-width="1"/>
<line x1="995.50" y1="520.05" x2="1058.40" y2="520.05" stroke="#a8a8a8" stroke-width="1"/>
<line x1="1060.80" y1="520.05" x2="1123.40" y2="520.05" stroke="#a8a8a8" stroke-width="1"/>
<line x1="734.50" y1="541.80" x2="797.00" y2="541.80" stroke="#a8a8a8" stroke-width="1"/>
<line x1="799.60" y1="541.80" x2="862.40" y2="541.80" stroke="#a8a8a8" stroke-width="1"/>
<line x1="864.80" y1="541.80" x2="927.70" y2="541.80" stroke="#a8a8a8" stroke-width="1"/>
<line x1="930.40" y1="541.80" x2="993.20" y2="541.80" stroke="#a8a8a8" stroke-width="1"/>
<line x1="995.50" y1="541.80" x2="1058.40" y2="541.80" stroke="#a8a8a8" stroke-width="1"/>
<line x1="1060.80" y1="541.80" x2="1123.40" y2="541.80" stroke="#a8a8a8" stroke-width="1"/>
<line x1="734.50" y1="563.55" x2="797.00" y2="563.55" stroke="#a8a8a8" stroke-width="1"/>
<line x1="799.60" y1="563.55" x2="862.40" y2="563.55" stroke="#a8a8a8" stroke-width="1"/>
<line x1="864.80" y1="563.55" x2="927.70" y2="563.55" stroke="#a8a8a8" stroke-width="1"/>
<line x1="930.40" y1="563.55" x2="993.20" y2="563.55" stroke="#a8a8a8" stroke-width="1"/>
<line x1="995.50" y1="563.55" x2="1058.40" y2="563.55" stroke="#a8a8a8" stroke-width="1"/>
<line x1="1060.80" y1="563.55" x2="1123.40" y2="563.55" stroke="#a8a8a8" stroke-width="1"/>
<line x1="734.50" y1="585.30" x2="797.00" y2="585.30" stroke="#a8a8a8" stroke-width="1"/>
<line x1="799.60" y1="585.30" x2="862.40" y2="585.30" stroke="#a8a8a8" stroke-width="1"/>
<line x1="864.80" y1="585.30" x2="927.70" y2="585.30" stroke="#a8a8a8" stroke-width="1"/>
<line x1="930.40" y1="585.30" x2="993.20" y2="585.30" stroke="#a8a8a8" stroke-width="1"/>
<line x1="995.50" y1="585.30" x2="1058.40" y2="585.30" stroke="#a8a8a8" stroke-width="1"/>
<line x1="1060.80" y1="585.30" x2="1123.40" y2="585.30" stroke="#a8a8a8" stroke-width="1"/>
<line x1="734.50" y1="607.05" x2="797.00" y2="607.05" stroke="#a8a8a8" stroke-width="1"/>
<line x1="799.60" y1="607.05" x2="862.40" y2="607.05" stroke="#a8a8a8" stroke-width="1"/>
<line x1="864.80" y1="607.05" x2="927.70" y2="607.05" stroke="#a8a8a8" stroke-width="1"/>
<line x1="930.40" y1="607.05" x2="993.20" y2="607.05" stroke="#a8a8a8" stroke-width="1"/>
<line x1="995.50" y1="607.05" x2="1058.40" y2="607.05" stroke="#a8a8a8" stroke-width="1"/>
<line x1="1060.80" y1="607.05" x2="1123.40" y2="607.05" stroke="#a8a8a8" stroke-width="1"/>
<line x1="734.50" y1="628.80" x2="797.00" y2="628.80" stroke="#a8a8a8" stroke-width="1"/>
<line x1="799.60" y1="628.80" x2="862.40" y2="628.80" stroke="#a8a8a8" stroke-width="1"/>
<line x1="864.80" y1="628.80" x2="927.70" y2="628.80" stroke="#a8a8a8" stroke-width="1"/>
<line x1="930.40" y1="628.80" x2="993.20" y2="628.80" stroke="#a8a8a8" stroke-width="1"/>
<line x1="995.50" y1="628.80" x2="1058.40" y2="628.80" stroke="#a8a8a8" stroke-width="1"/>
<line x1="1060.80" y1="628.80" x2="1123.40" y2="628.80" stroke="#a8a8a8" stroke-width="1"/>
<line x1="797.30" y1="397.30" x2="797.30" y2="647.50" stroke="#e2e2e2" stroke-width="1"/>
<line x1="799.30" y1="397.30" x2="799.30" y2="647.50" stroke="#e2e2e2" stroke-width="1"/>
<line x1="862.70" y1="397.30" x2="862.70" y2="647.50" stroke="#e2e2e2" stroke-width="1"/>
<line x1="864.50" y1="397.30" x2="864.50" y2="647.50" stroke="#e2e2e2" stroke-width="1"/>
<line x1="928.00" y1="397.30" x2="928.00" y2="647.50" stroke="#e2e2e2" stroke-width="1"/>
<line x1="930.10" y1="397.30" x2="930.10" y2="647.50" stroke="#e2e2e2" stroke-width="1"/>
<line x1="993.50" y1="397.30" x2="993.50" y2="647.50" stroke="#e2e2e2" stroke-width="1"/>
<line x1="995.20" y1="397.30" x2="995.20" y2="647.50" stroke="#e2e2e2" stroke-width="1"/>
<line x1="1058.70" y1="397.30" x2="1058.70" y2="647.50" stroke="#e2e2e2" stroke-width="1"/>
<line x1="1060.50" y1="397.30" x2="1060.50" y2="647.50" stroke="#e2e2e2" stroke-width="1"/>
<rect x="779.30" y="431.30" width="38.30" height="26.00" stroke="#e6e6e6" stroke-width="1" fill="#fff"/>
<rect x="781.10" y="433.10" width="34.70" height="22.40" stroke="#d2d2d2" stroke-width="1.3" fill="#fff"/>
<line x1="781.80" y1="434.50" x2="815.10" y2="434.50" stroke="#cdcdcd" stroke-width="1.2"/>
<line x1="781.80" y1="454.20" x2="815.10" y2="454.20" stroke="#dedede" stroke-width="1.1"/>
<line x1="797.30" y1="432.30" x2="797.30" y2="456.30" stroke="#dadada" stroke-width="1"/>
<line x1="799.30" y1="432.30" x2="799.30" y2="456.30" stroke="#dadada" stroke-width="1"/>
<rect x="910.00" y="431.30" width="37.90" height="26.00" stroke="#e6e6e6" stroke-width="1" fill="#fff"/>
<rect x="911.80" y="433.10" width="34.30" height="22.40" stroke="#d2d2d2" stroke-width="1.3" fill="#fff"/>
<line x1="912.50" y1="434.50" x2="945.40" y2="434.50" stroke="#cdcdcd" stroke-width="1.2"/>
<line x1="912.50" y1="454.20" x2="945.40" y2="454.20" stroke="#dedede" stroke-width="1.1"/>
<line x1="928.00" y1="432.30" x2="928.00" y2="456.30" stroke="#dadada" stroke-width="1"/>
<line x1="930.10" y1="432.30" x2="930.10" y2="456.30" stroke="#dadada" stroke-width="1"/>
<rect x="1040.50" y="431.30" width="38.10" height="26.00" stroke="#e6e6e6" stroke-width="1" fill="#fff"/>
<rect x="1042.30" y="433.10" width="34.50" height="22.40" stroke="#d2d2d2" stroke-width="1.3" fill="#fff"/>
<line x1="1043.00" y1="434.50" x2="1076.10" y2="434.50" stroke="#cdcdcd" stroke-width="1.2"/>
<line x1="1043.00" y1="454.20" x2="1076.10" y2="454.20" stroke="#dedede" stroke-width="1.1"/>
<line x1="1058.70" y1="432.30" x2="1058.70" y2="456.30" stroke="#dadada" stroke-width="1"/>
<line x1="1060.50" y1="432.30" x2="1060.50" y2="456.30" stroke="#dadada" stroke-width="1"/>
<rect x="745.30" y="583.40" width="38.00" height="26.10" stroke="#e6e6e6" stroke-width="1" fill="#fff"/>
<rect x="747.10" y="585.20" width="34.40" height="22.50" stroke="#d2d2d2" stroke-width="1.3" fill="#fff"/>
<line x1="747.80" y1="586.60" x2="780.80" y2="586.60" stroke="#cdcdcd" stroke-width="1.2"/>
<line x1="747.80" y1="606.40" x2="780.80" y2="606.40" stroke="#dedede" stroke-width="1.1"/>
<line x1="764.30" y1="585.40" x2="764.30" y2="607.50" stroke="#d8d8d8" stroke-width="1.7"/>
<rect x="805.30" y="583.40" width="38.40" height="26.10" stroke="#e6e6e6" stroke-width="1" fill="#fff"/>
<rect x="807.10" y="585.20" width="34.80" height="22.50" stroke="#d2d2d2" stroke-width="1.3" fill="#fff"/>
<line x1="807.80" y1="586.60" x2="841.20" y2="586.60" stroke="#cdcdcd" stroke-width="1.2"/>
<line x1="807.80" y1="606.40" x2="841.20" y2="606.40" stroke="#dedede" stroke-width="1.1"/>
<line x1="824.50" y1="585.40" x2="824.50" y2="607.50" stroke="#d8d8d8" stroke-width="1.7"/>
<rect x="877.50" y="583.40" width="38.00" height="26.10" stroke="#e6e6e6" stroke-width="1" fill="#fff"/>
<rect x="879.30" y="585.20" width="34.40" height="22.50" stroke="#d2d2d2" stroke-width="1.3" fill="#fff"/>
<line x1="880.00" y1="586.60" x2="913.00" y2="586.60" stroke="#cdcdcd" stroke-width="1.2"/>
<line x1="880.00" y1="606.40" x2="913.00" y2="606.40" stroke="#dedede" stroke-width="1.1"/>
<line x1="896.50" y1="585.40" x2="896.50" y2="607.50" stroke="#d8d8d8" stroke-width="1.7"/>
<rect x="1008.50" y="583.40" width="37.80" height="26.10" stroke="#e6e6e6" stroke-width="1" fill="#fff"/>
<rect x="1010.30" y="585.20" width="34.20" height="22.50" stroke="#d2d2d2" stroke-width="1.3" fill="#fff"/>
<line x1="1011.00" y1="586.60" x2="1043.80" y2="586.60" stroke="#cdcdcd" stroke-width="1.2"/>
<line x1="1011.00" y1="606.40" x2="1043.80" y2="606.40" stroke="#dedede" stroke-width="1.1"/>
<line x1="1027.40" y1="585.40" x2="1027.40" y2="607.50" stroke="#d8d8d8" stroke-width="1.7"/>
<rect x="1073.50" y="583.40" width="37.80" height="26.10" stroke="#e6e6e6" stroke-width="1" fill="#fff"/>
<rect x="1075.30" y="585.20" width="34.20" height="22.50" stroke="#d2d2d2" stroke-width="1.3" fill="#fff"/>
<line x1="1076.00" y1="586.60" x2="1108.80" y2="586.60" stroke="#cdcdcd" stroke-width="1.2"/>
<line x1="1076.00" y1="606.40" x2="1108.80" y2="606.40" stroke="#dedede" stroke-width="1.1"/>
<line x1="1092.40" y1="585.40" x2="1092.40" y2="607.50" stroke="#d8d8d8" stroke-width="1.7"/>
<line x1="730.40" y1="647.50" x2="1128.00" y2="647.50" stroke="#d6d6d6" stroke-width="1"/>
<line x1="727.00" y1="648.20" x2="1130.00" y2="648.20" stroke="#c8c8c8" stroke-width="1"/>
<polygon points="714,651 727,648.8 730.4,648.8 730.4,651" fill="#dddddd"/>
<polygon points="1128,648.8 1160,649.6 1160,651 1128,651" fill="#e6e6e6"/>
<line x1="640.50" y1="453.30" x2="730.60" y2="453.30" stroke="#cfcfcf" stroke-width="1"/>
<rect x="701.40" y="417.40" width="26.40" height="10.30" stroke="#cdcdcd" stroke-width="1" fill="#fff"/>
<line x1="701.40" y1="423.00" x2="727.80" y2="423.00" stroke="#cdcdcd" stroke-width="1"/>
<line x1="702.60" y1="427.70" x2="702.60" y2="453.30" stroke="#d6d6d6" stroke-width="1"/>
<line x1="704.50" y1="427.70" x2="704.50" y2="453.30" stroke="#d6d6d6" stroke-width="1"/>
<line x1="726.30" y1="427.70" x2="726.30" y2="453.30" stroke="#d6d6d6" stroke-width="1"/>
<line x1="727.50" y1="427.70" x2="727.50" y2="453.30" stroke="#d6d6d6" stroke-width="1"/>
<line x1="641.00" y1="521.50" x2="730.50" y2="521.50" stroke="#dedede" stroke-width="1"/>
<line x1="641.00" y1="524.80" x2="730.50" y2="524.80" stroke="#d2d2d2" stroke-width="1.4"/>
<polyline points="640.50,435.50 640.50,539.80 630.00,546.20 650.50,546.20 640.50,553.20 640.50,669.20" stroke="#1a1a1a" stroke-width="1.5" fill="none" stroke-linejoin="miter"/>
<line x1="600.00" y1="475.40" x2="662.20" y2="505.40" stroke="#c8c8c8" stroke-width="1"/>
<polyline points="656.60,506.20 662.20,505.40 659.60,500.60" stroke="#c8c8c8" stroke-width="1" fill="none" stroke-linejoin="miter"/>
<line x1="592.50" y1="475.00" x2="597.50" y2="475.00" stroke="#c8c8c8" stroke-width="1"/>
<text x="447.80" y="479.20" font-size="12.9" text-anchor="start" fill="#111">Существующее здание</text>
<line x1="620.80" y1="652.10" x2="1200.00" y2="652.10" stroke="#050505" stroke-width="2.2"/>
<line x1="726.70" y1="681.30" x2="1131.80" y2="681.30" stroke="#c8c8c8" stroke-width="1"/>
<line x1="734.60" y1="652.00" x2="734.60" y2="684.50" stroke="#cfcfcf" stroke-width="1"/>
<line x1="1123.40" y1="652.00" x2="1123.40" y2="683.80" stroke="#cfcfcf" stroke-width="1"/>
<line x1="730.80" y1="684.70" x2="739.20" y2="676.70" stroke="#999" stroke-width="1"/>
<line x1="1120.20" y1="684.20" x2="1127.30" y2="676.50" stroke="#999" stroke-width="1"/>
<text x="904.00" y="672.50" font-size="14.8" text-anchor="start" fill="#111">18000</text>
<circle cx="734.7" cy="696.3" r="12" fill="#fff" stroke="#cfcfcf" stroke-width="1"/>
<circle cx="1123.4" cy="695.7" r="12" fill="#fff" stroke="#cfcfcf" stroke-width="1"/>
<text x="734.70" y="701.30" font-size="14" text-anchor="middle" fill="#111">А</text>
<text x="1123.40" y="700.70" font-size="14" text-anchor="middle" fill="#111">Г</text>
<text x="874.60" y="355.90" font-size="23.6" text-anchor="start" fill="#111" font-style="italic">Фасад А-Г</text>
<line x1="874.00" y1="358.50" x2="986.00" y2="358.50" stroke="#1a1a1a" stroke-width="1.6"/>
<line x1="660.30" y1="729.30" x2="857.30" y2="729.30" stroke="#cfcfcf" stroke-width="1"/>
<line x1="660.30" y1="744.50" x2="857.30" y2="744.50" stroke="#cfcfcf" stroke-width="1"/>
<line x1="660.30" y1="759.50" x2="857.30" y2="759.50" stroke="#cfcfcf" stroke-width="1"/>
<line x1="660.30" y1="805.70" x2="857.30" y2="805.70" stroke="#cfcfcf" stroke-width="1"/>
<line x1="660.30" y1="820.70" x2="857.30" y2="820.70" stroke="#cfcfcf" stroke-width="1"/>
<line x1="660.30" y1="836.00" x2="857.30" y2="836.00" stroke="#cfcfcf" stroke-width="1"/>
<line x1="660.30" y1="851.00" x2="857.30" y2="851.00" stroke="#cfcfcf" stroke-width="1"/>
<line x1="660.30" y1="866.00" x2="857.30" y2="866.00" stroke="#cfcfcf" stroke-width="1"/>
<line x1="660.30" y1="714.30" x2="1200.00" y2="714.30" stroke="#181818" stroke-width="1.3"/>
<line x1="660.30" y1="774.90" x2="857.30" y2="774.90" stroke="#181818" stroke-width="1.3"/>
<line x1="660.30" y1="789.70" x2="857.30" y2="789.70" stroke="#181818" stroke-width="1.3"/>
<line x1="660.30" y1="714.30" x2="660.30" y2="881.00" stroke="#181818" stroke-width="1.3"/>
<line x1="684.50" y1="714.30" x2="684.50" y2="789.70" stroke="#181818" stroke-width="1.3"/>
<line x1="742.10" y1="714.30" x2="742.10" y2="789.70" stroke="#181818" stroke-width="1.3"/>
<line x1="711.30" y1="714.30" x2="711.30" y2="881.00" stroke="#181818" stroke-width="1.3"/>
<line x1="781.60" y1="714.30" x2="781.60" y2="881.00" stroke="#181818" stroke-width="1.3"/>
<line x1="826.40" y1="714.30" x2="826.40" y2="881.00" stroke="#181818" stroke-width="1.3"/>
<line x1="857.30" y1="714.30" x2="857.30" y2="881.00" stroke="#181818" stroke-width="1.3"/>
<line x1="857.30" y1="744.40" x2="1200.00" y2="744.40" stroke="#181818" stroke-width="1.3"/>
<line x1="857.30" y1="790.20" x2="1200.00" y2="790.20" stroke="#181818" stroke-width="1.3"/>
<line x1="857.30" y1="835.40" x2="1200.00" y2="835.40" stroke="#181818" stroke-width="1.3"/>
<line x1="1069.30" y1="790.20" x2="1069.30" y2="881.00" stroke="#181818" stroke-width="1.3"/>
<line x1="1114.50" y1="790.20" x2="1114.50" y2="835.40" stroke="#181818" stroke-width="1.3"/>
<line x1="1160.00" y1="790.20" x2="1160.00" y2="835.40" stroke="#181818" stroke-width="1.3"/>
<line x1="1069.30" y1="805.60" x2="1200.00" y2="805.60" stroke="#181818" stroke-width="1.3"/>
<text x="660.90" y="786.20" font-size="10.8" text-anchor="start" fill="#111">Изм.</text>
<text x="685.40" y="786.20" font-size="10.8" text-anchor="start" fill="#111">Кол.</text>
<text x="716.80" y="786.20" font-size="10.8" text-anchor="start" fill="#111">Лист</text>
<text x="746.20" y="786.20" font-size="10.8" text-anchor="start" fill="#111">№ док.</text>
<text x="792.00" y="786.20" font-size="10.8" text-anchor="start" fill="#111">Подп.</text>
<text x="829.30" y="786.20" font-size="10.8" text-anchor="start" fill="#111">Дата</text>
<text x="663.20" y="815.00" font-size="10.8" text-anchor="start" fill="#111">Разраб.</text>
<text x="714.20" y="816.00" font-size="10.8" text-anchor="start" fill="#111">Решетова</text>
<text x="829.10" y="817.00" font-size="10.8" text-anchor="start" fill="#111">03.23</text>
<text x="663.80" y="847.30" font-size="10.8" text-anchor="start" fill="#111">Н. контр.</text>
<text x="715.80" y="847.00" font-size="10.8" text-anchor="start" fill="#111">Двоеглазов</text>
<text x="829.10" y="846.90" font-size="10.8" text-anchor="start" fill="#111">03.23</text>
<text x="664.20" y="862.30" font-size="10.8" text-anchor="start" fill="#111">ГИП</text>
<text x="715.60" y="862.30" font-size="10.8" text-anchor="start" fill="#111">Коротаев</text>
<text x="829.10" y="863.30" font-size="10.8" text-anchor="start" fill="#111">03.23</text>
<path d="M786.2,810.5 C788.5,807 790.5,804 792.3,801.6 M790,808 C791,807 792.5,807.2 794,806.5 M805,798.3 C800,805 793,814 787.5,821.5 C784.5,826 783.5,829.5 785.8,828 C789,825.5 792.5,820 795.5,815.8" stroke="#1e1e1e" stroke-width="0.9" fill="none" stroke-linecap="round" stroke-linejoin="round"/>
<path d="M797.2,819.8 C795.6,818.4 799,811.5 803,808.6 C806,806.6 807.3,808.8 804.4,812.4 C801.4,816 798.2,820.4 797.2,819.8 Z" stroke="#1e1e1e" stroke-width="0.9" fill="none" stroke-linecap="round" stroke-linejoin="round"/>
<path d="M804.2,817.2 C803.4,815.4 806.8,811.4 809.8,810.2 C812.2,809.4 811.6,812 809.2,814 C807.2,816 804.8,818.2 804.2,817.2 Z" stroke="#1e1e1e" stroke-width="0.9" fill="none" stroke-linecap="round" stroke-linejoin="round"/>
<path d="M810.4,816.4 C810.2,814.4 813.2,812 815.2,811.6 C816.8,811.2 815.8,813.6 813.6,815.2 M817.2,812.6 L821.6,812" stroke="#1e1e1e" stroke-width="0.9" fill="none" stroke-linecap="round" stroke-linejoin="round"/>
<path d="M782,857.5 C786,851 792,843 798.8,835.6 C797.5,837 796.6,838.2 797.5,838.5 M797.8,837.5 C796,841 794.5,845.5 795,849 C796,851.8 799.2,849 801.5,847.2 C803.2,846 803.6,848.4 802,851.2" stroke="#1e1e1e" stroke-width="0.9" fill="none" stroke-linecap="round" stroke-linejoin="round"/>
<path d="M784.6,865.2 C783,861 786.2,857.2 792,855.2 C798,853.2 806,853 812,851 C818,849 822.2,844.8 825.8,839 C827,836.2 826.4,834.4 824,836 C820,839 814,843.2 808,849 C800,856 792.2,862 788,864.6 C785,866.4 786,868.2 790,867 C796,865 804,860 810,855 C816,850 818.2,846.8 815,848 C811,850 806,855 802.2,861 C800.2,864 801,866.2 804,864.2 L826,846.2" stroke="#1e1e1e" stroke-width="0.9" fill="none" stroke-linecap="round" stroke-linejoin="round"/>
<path d="M792,860.5 C795,857 801,854.8 806.5,852.5 M786.8,860.4 C789.5,857.2 794,855.5 797.5,855.8 C795,858.2 790,862.5 789.2,864.2" stroke="#1e1e1e" stroke-width="0.9" fill="none" stroke-linecap="round" stroke-linejoin="round"/>
<path d="M824.4,849.8 L802.7,875.3 M809,849 C814,845 820,840 826.3,833.8 C825,837 823.6,838.5 821.5,839.5" stroke="#1e1e1e" stroke-width="0.9" fill="none" stroke-linecap="round" stroke-linejoin="round"/>
<text x="1031.90" y="734.20" font-size="13.4" text-anchor="middle" fill="#111">11-23П</text>
<text x="1038.90" y="760.00" font-size="10.7" text-anchor="middle" fill="#111">«Складское здание», расположенное по адресу:</text>
<text x="1038.50" y="771.10" font-size="10.7" text-anchor="middle" fill="#111">Нижегородская область, Вачский район, с. Епифаново,</text>
<text x="1040.30" y="782.80" font-size="10.7" text-anchor="middle" fill="#111">кадастровый номер земельного участка: 52:36:0003021:367</text>
<text x="965.20" y="817.70" font-size="11.2" text-anchor="middle" fill="#111">ООО "Инструм-Агро"</text>
<text x="1094.00" y="800.90" font-size="11.6" text-anchor="middle" fill="#111">Стадия</text>
<text x="1136.90" y="800.90" font-size="11.6" text-anchor="middle" fill="#111">Лист</text>
<text x="1171.70" y="800.90" font-size="11.6" text-anchor="start" fill="#111">Листов</text>
<text x="1091.00" y="826.00" font-size="12.8" text-anchor="middle" fill="#111">ЭП</text>
<text x="1137.20" y="826.00" font-size="12.8" text-anchor="middle" fill="#111">9</text>
<text x="1189.80" y="826.00" font-size="12.8" text-anchor="middle" fill="#111">19</text>
<text x="973.00" y="857.30" font-size="11.2" text-anchor="middle" fill="#111">Фасад Г-А</text>
<text x="974.70" y="868.90" font-size="11.2" text-anchor="middle" fill="#111">Фасад А-Г</text>
<text x="1146.70" y="865.40" font-size="15.2" text-anchor="middle" fill="#111">ООО "Альянс"</text>
</svg>
</body></html>
